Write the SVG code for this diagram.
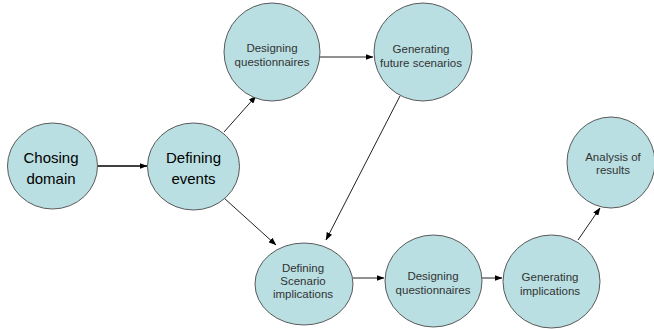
<svg xmlns="http://www.w3.org/2000/svg" width="654" height="329" viewBox="0 0 654 329">
<style>
.n{fill:#B9DFE2;stroke:#5a5a5a;stroke-width:1}
.t{font-family:"Liberation Sans",Arial,sans-serif;fill:#000;text-anchor:middle}
.big{font-size:15px}
.sm{font-size:11.5px;fill:#333}
.c{stroke:#222;stroke-width:1;fill:none;marker-end:url(#ah)}
</style>
<defs>
<marker id="ah" markerUnits="userSpaceOnUse" markerWidth="8" markerHeight="6" refX="7.5" refY="3" orient="auto">
<path d="M0,0 L8,3 L0,6 z" fill="#000"/>
</marker>
</defs>
<rect width="654" height="329" fill="#fff"/>
<g id="connectors">
<line class="c" x1="97" y1="166" x2="147" y2="166" style="stroke-width:1.5;stroke:#000"/>
<line class="c" x1="320" y1="57" x2="373" y2="57"/>
<line class="c" x1="224" y1="132" x2="256" y2="96"/>
<line class="c" x1="224" y1="198" x2="276" y2="245"/>
<line class="c" x1="400" y1="96" x2="326" y2="240"/>
<line class="c" x1="353" y1="278" x2="384" y2="278"/>
<line class="c" x1="482" y1="278" x2="502" y2="278"/>
<line class="c" x1="578" y1="240" x2="600" y2="208"/>
</g>
<g id="n1">
<ellipse class="n" cx="52.5" cy="166" rx="45" ry="43"/>
<text class="t big" x="51" y="163">Chosing</text>
<text class="t big" x="51" y="184">domain</text>
</g>
<g id="n2">
<ellipse class="n" cx="193.5" cy="166.5" rx="46" ry="43.5"/>
<text class="t big" x="193.5" y="163">Defining</text>
<text class="t big" x="193.5" y="184">events</text>
</g>
<g id="n3">
<ellipse class="n" cx="272" cy="52" rx="48" ry="49"/>
<text class="t sm" x="272" y="52">Designing</text>
<text class="t sm" x="272" y="66">questionnaires</text>
</g>
<g id="n4">
<ellipse class="n" cx="423" cy="52" rx="49" ry="49"/>
<text class="t sm" x="421" y="53">Generating</text>
<text class="t sm" x="421" y="67">future scenarios</text>
</g>
<g id="n5">
<ellipse class="n" cx="304" cy="284" rx="49" ry="41"/>
<text class="t sm" x="303" y="272">Defining</text>
<text class="t sm" x="303" y="285">Scenario</text>
<text class="t sm" x="303" y="298">implications</text>
</g>
<g id="n6">
<ellipse class="n" cx="433.5" cy="281" rx="48.5" ry="46"/>
<text class="t sm" x="433" y="280">Designing</text>
<text class="t sm" x="433" y="294">questionnaires</text>
</g>
<g id="n7">
<ellipse class="n" cx="551.5" cy="281.5" rx="48.5" ry="46.5"/>
<text class="t sm" x="550" y="281">Generating</text>
<text class="t sm" x="550" y="295">implications</text>
</g>
<g id="n8">
<ellipse class="n" cx="611" cy="162.5" rx="44" ry="45.5"/>
<text class="t sm" x="613" y="161">Analysis of</text>
<text class="t sm" x="613" y="174">results</text>
</g>
</svg>
